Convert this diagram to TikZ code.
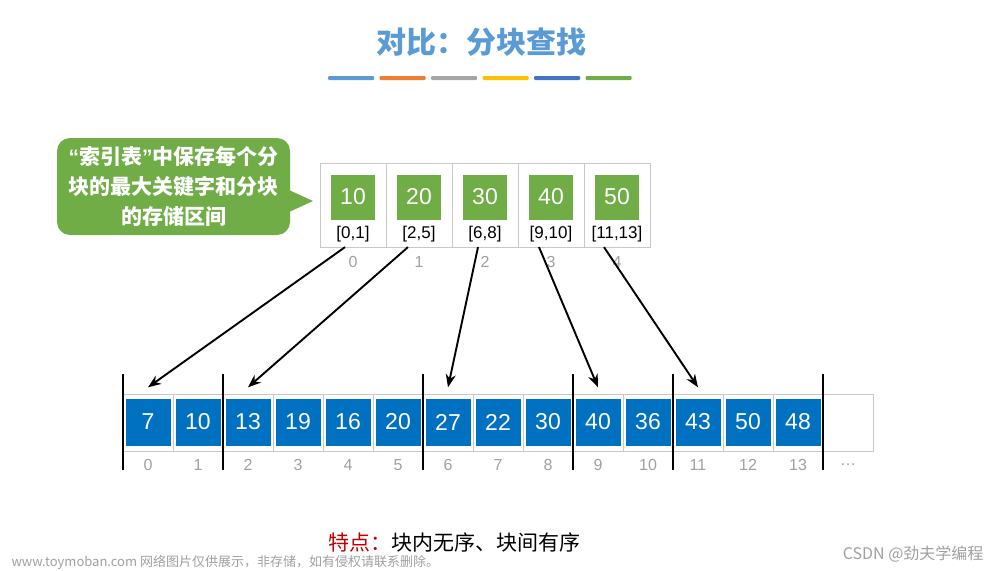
\documentclass[tikz,border=0pt]{standalone}
\usepackage{fontspec}
\setmainfont{Liberation Sans}
\newfontfamily\cjk{Noto Sans CJK SC}
\usetikzlibrary{arrows.meta}
\definecolor{titleblue}{HTML}{5B9BD5}
\definecolor{keygreen}{HTML}{70AD47}
\definecolor{cellblue}{HTML}{0070C0}
\definecolor{linegray}{HTML}{C8C8C8}
\definecolor{idxgray}{HTML}{A0A0A0}
\definecolor{markred}{HTML}{C00000}
\definecolor{barorange}{HTML}{ED7D31}
\definecolor{bargray}{HTML}{A5A5A5}
\definecolor{baryellow}{HTML}{FFC000}
\definecolor{bardblue}{HTML}{4472C4}
\tikzset{
  keybox/.style={fill=keygreen, text=white, minimum width=44pt, minimum height=45pt, inner sep=0pt, font=\fontsize{23}{23}\selectfont},
  cellbox/.style={fill=cellblue, text=white, minimum width=45pt, minimum height=47pt, inner sep=0pt, font=\fontsize{23}{23}\selectfont},
  idxlabel/.style={text=idxgray, inner sep=1pt, font=\fontsize{16}{16}\selectfont},
  arr/.style={-{Stealth[length=13pt,width=10pt]}, line width=1.9pt}
}
\begin{document}
\begin{tikzpicture}[x=1pt,y=-1pt]
\useasboundingbox (0,0) rectangle (1000,570);
% title
\node [text=titleblue, font=\cjk\bfseries\fontsize{30}{30}\selectfont] (title) at (481,42) {对比：分块查找};
\foreach \c [count=\i from 0] in {titleblue,barorange,bargray,baryellow,bardblue,keygreen}
  \fill [\c, rounded corners=1pt] (328+51.5*\i,76) rectangle +(46,4);
% index table
\draw [linegray] (320,163) rectangle (650,247);
\foreach \x in {1,...,4}
  \draw [linegray] (320+66*\x,163) -- +(0,84);
\foreach \k/\r [count=\i from 0] in {10/{[0,1]},20/{[2,5]},30/{[6,8]},40/{[9,10]},50/{[11,13]}}{
  \node [keybox] (key\i) at (353+66*\i,197) {\k};
  \node [inner sep=1pt, font=\fontsize{17}{17}\selectfont] (rng\i) at (353+66*\i,234) {\r};
  \node [idxlabel] (kid\i) at (353+66*\i,262) {\i};
}
% callout
\node [fill=keygreen, rounded corners=13pt, minimum width=233pt, minimum height=97pt, text=white, align=center, font=\cjk\bfseries\fontsize{21}{30}\selectfont] (note) at (173.5,186.5) {{\normalfont\bfseries “}索引表{\normalfont\bfseries ”}中保存每个分\\块的最大关键字和分块\\的存储区间};
\fill [keygreen] (289,190) -- (313,201) -- (289,212) -- cycle;
% array
\draw [linegray] (123,394) rectangle (873,451);
\foreach \x in {1,...,14}
  \draw [linegray] (123+50*\x,394) -- +(0,57);
\foreach \v [count=\i from 0] in {7,10,13,19,16,20,27,22,30,40,36,43,50,48}{
  \node [cellbox] (a\i) at (148+50*\i,422) {\v};
  \node [idxlabel] (ai\i) at (148+50*\i,465) {\i};
}
\node [idxlabel] (more) at (848,465) {\ldots};
% block borders
\foreach \x in {0,2,6,9,11,14}
  \draw [line width=2pt] (123+50*\x,374) -- +(0,96);
% links
\foreach \i/\j/\d in {0/0/-8,1/2/-11,2/6/-7,3/9/-12,4/11/-13}
  \draw [arr] ([xshift=\d pt, yshift=-4pt]rng\i.south) -- ([yshift=11pt]a\j.north);
% note
\node [font=\cjk\fontsize{21}{21}\selectfont] (feat) at (454,542) {\textcolor{markred}{特点：}块内无序、块间有序};
\node [anchor=west, text=idxgray, font=\cjk\fontsize{13}{13}\selectfont] (src) at (8,562) {www.toymoban.com 网络图片仅供展示，非存储，如有侵权请联系删除。};
\node [anchor=east, text=idxgray, font=\cjk\fontsize{16}{16}\selectfont] (csdn) at (987,554) {CSDN @劲夫学编程};
\end{tikzpicture}
\end{document}
